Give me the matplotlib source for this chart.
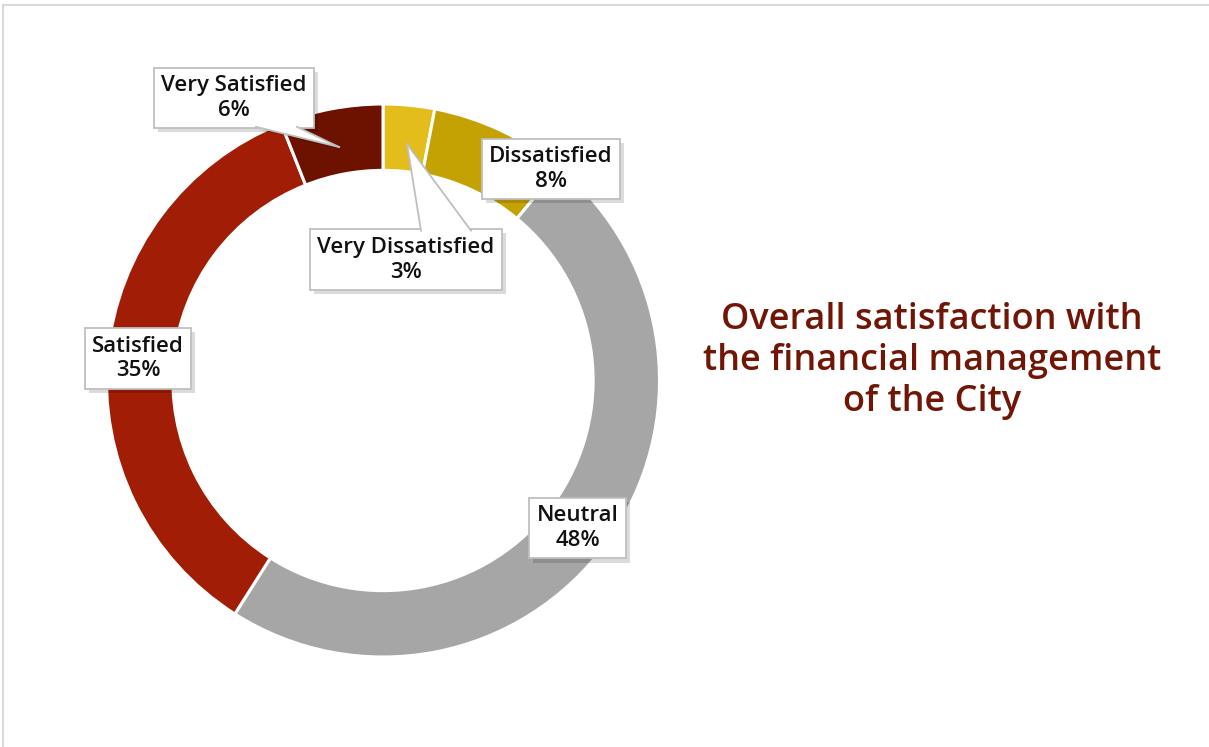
import matplotlib
matplotlib.use("Agg")
import matplotlib.pyplot as plt
from matplotlib.patches import Polygon
from matplotlib.lines import Line2D
from matplotlib.transforms import ScaledTranslation
import matplotlib.patheffects as pe

# Survey results (share of respondents, %), in clockwise order from 12 o'clock
categories = ["Very Dissatisfied", "Dissatisfied", "Neutral", "Satisfied", "Very Satisfied"]
shares = [3, 8, 48, 35, 6]
colors = ["#E2BD1B", "#C4A203", "#A6A6A6", "#A11D05", "#6D1100"]
title = "Overall satisfaction with\nthe financial management\nof the City"

W, H = 1209, 747
fig = plt.figure(figsize=(W / 100, H / 100), dpi=100)
fig.patch.set_facecolor("white")

# pixel geometry of the ring
cx, cy, R = 383.0, 380.5, 276.5
ax = fig.add_axes([(cx - R) / W, (H - cy - R) / H, 2 * R / W, 2 * R / H])
wedges, _ = ax.pie(shares, colors=colors, startangle=90, counterclock=False,
                   radius=1.0,
                   wedgeprops=dict(width=0.24, edgecolor="white", linewidth=2.2))
ax.set_xlim(-1, 1)
ax.set_ylim(-1, 1)
ax.axis("off")


def to_data(px, py):
    return ((px - cx) / R, (cy - py) / R)


# label box centres (pixels from top-left)
label_centres = {
    "Very Dissatisfied": (406, 259.5),
    "Dissatisfied": (551, 169),
    "Neutral": (577.5, 528),
    "Satisfied": (138, 358.5),
    "Very Satisfied": (234, 98),
}

label_font = dict(family=["Open Sans", "DejaVu Sans"], weight="semibold", size=16)
texts = {}
for cat, val in zip(categories, shares):
    x, y = to_data(*label_centres[cat])
    t = ax.text(x, y, f"{cat}\n{val}%", ha="center", va="center",
                linespacing=1.25, color="#111111", zorder=5, clip_on=False,
                bbox=dict(boxstyle="square,pad=0.33", facecolor="white",
                          edgecolor="#BFBFBF", linewidth=1.3),
                **label_font)
    t.get_bbox_patch().set_path_effects([
        pe.SimplePatchShadow(offset=(3, -3), shadow_rgbFace="#000000", alpha=0.14),
        pe.Normal()])
    texts[cat] = t

fig.canvas.draw()
renderer = fig.canvas.get_renderer()
inv = ax.transData.inverted()

# callout tails: (tip pixel, base x-range in pixels, which edge of the box)
tails = {
    "Very Satisfied": ((339, 147), (256, 297), "bottom"),
    "Very Dissatisfied": ((407, 144), (421, 471), "top"),
}
for cat, (tip_px, (bx0, bx1), edge) in tails.items():
    bb = texts[cat].get_bbox_patch().get_window_extent(renderer)
    if edge == "bottom":
        ey = bb.y0 + 1.5
    else:
        ey = bb.y1 - 1.5
    yb_data = inv.transform((0, ey))[1]
    p0 = (to_data(bx0, 0)[0], yb_data)
    p1 = (to_data(bx1, 0)[0], yb_data)
    tip = to_data(*tip_px)
    shadow = Polygon([p0, tip, p1], closed=True, facecolor="#000000", alpha=0.12,
                     edgecolor="none", zorder=4.5, clip_on=False,
                     transform=ax.transData + ScaledTranslation(
                         3 / 100, -3 / 100, fig.dpi_scale_trans))
    ax.add_patch(shadow)
    fill = Polygon([p0, tip, p1], closed=True, facecolor="white",
                   edgecolor="none", zorder=6, clip_on=False)
    ax.add_patch(fill)
    for p in (p0, p1):
        ax.add_line(Line2D([p[0], tip[0]], [p[1], tip[1]], color="#BFBFBF",
                           linewidth=1.3, zorder=6.5, clip_on=False))

# title on the right
fig.text(932 / W, 1 - 361 / H, title, ha="center", va="center",
         color="#711606", fontsize=26, linespacing=1.2,
         family=["Open Sans", "DejaVu Sans"], weight="semibold")

# thin frame lines at the top and left edges
fig.add_artist(Line2D([3 / W, 1], [1 - 5 / H, 1 - 5 / H], color="#D9D9D9",
                      linewidth=1.5, transform=fig.transFigure))
fig.add_artist(Line2D([3 / W, 3 / W], [0, 1 - 5 / H], color="#D9D9D9",
                      linewidth=1.5, transform=fig.transFigure))

fig.savefig("out.png", dpi=100, facecolor="white")
